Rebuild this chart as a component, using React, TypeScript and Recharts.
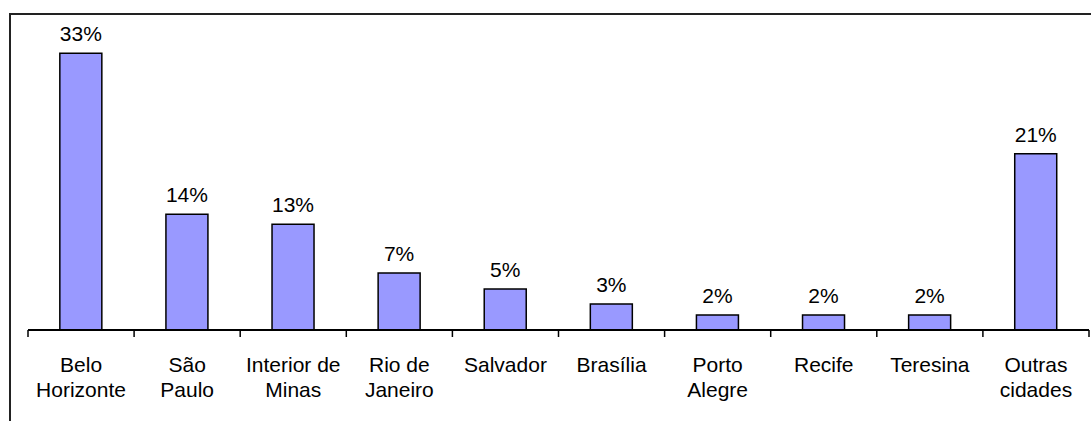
import { BarChart, Bar, XAxis, YAxis, LabelList } from 'recharts';

const cities = [
  'Belo\nHorizonte',
  'São\nPaulo',
  'Interior de\nMinas',
  'Rio de\nJaneiro',
  'Salvador',
  'Brasília',
  'Porto\nAlegre',
  'Recife',
  'Teresina',
  'Outras\ncidades',
];
const shares = [33, 13.8, 12.6, 6.8, 4.9, 3.1, 1.8, 1.8, 1.8, 21.0];

const data = cities.map((city, i) => ({ city, share: shares[i] }));

const FONT = '"Liberation Sans", Arial, sans-serif';

const CityTick = (props: any) => {
  const { x, y, payload, index } = props;
  const half = payload.offset || 0;
  const lines = String(payload.value).split('\n');
  return (
    <g>
      <line x1={x - half} y1={y} x2={x - half} y2={y + 7} stroke="#000" strokeWidth={1.5} />
      {index === cities.length - 1 && (
        <line x1={x + half} y1={y} x2={x + half} y2={y + 7} stroke="#000" strokeWidth={1.5} />
      )}
      <text x={x} y={y + 42} textAnchor="middle" fontFamily={FONT} fontSize={21} fill="#000">
        {lines.map((l, i) => (
          <tspan key={i} x={x} dy={i === 0 ? 0 : 25}>
            {l}
          </tspan>
        ))}
      </text>
    </g>
  );
};

const App = () => {
  return (
    <div style={{ position: 'fixed', left: 0, top: 0, width: 1091, height: 421, background: '#fff' }}>
      <div
        style={{
          position: 'absolute',
          left: 9,
          top: 13,
          width: 1100,
          height: 420,
          borderTop: '2px solid #222',
          borderLeft: '2px solid #222',
        }}
      />
      <div style={{ position: 'absolute', left: 0, top: 0 }}>
        <BarChart
          width={1091}
          height={421}
          data={data}
          margin={{ top: 28, right: 2, left: 28, bottom: 21 }}
          barCategoryGap="30%"
        >
          <YAxis hide domain={[0, 36]} />
          <XAxis
            dataKey="city"
            interval={0}
            height={70}
            axisLine={{ stroke: '#000', strokeWidth: 2 }}
            tickLine={false}
            tickSize={0}
            tickMargin={0}
            tick={<CityTick />}
          />
          <Bar dataKey="share" fill="#9999FF" stroke="#000" strokeWidth={1.5} isAnimationActive={false}>
            <LabelList
              dataKey="share"
              position="top"
              offset={12}
              formatter={(v: any) => `${Math.round(Number(v))}%`}
              fill="#000"
              fontSize={21}
              fontFamily={FONT}
            />
          </Bar>
        </BarChart>
      </div>
    </div>
  );
};

export default App;
